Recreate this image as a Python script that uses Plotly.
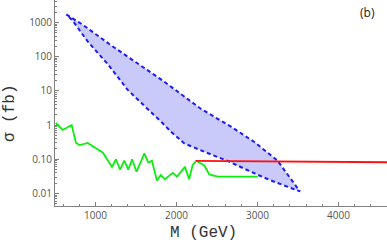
import numpy as np
import plotly.graph_objects as go

# Band (theory) boundaries
band_upper_m = [640, 842, 1170, 1500, 1830, 2300, 2673, 2961, 3245]
band_upper_sigma = [1720, 860, 234, 69, 20, 3.0, 0.90, 0.32, 0.093]
band_lower_m = [640, 718, 904, 1158, 1398, 1623, 1830, 1932, 2097, 2344, 2653, 2920, 3167, 3525]
band_lower_sigma = [1720, 1130, 279, 58, 10.7, 3.3, 1.13, 0.64, 0.29, 0.166, 0.085, 0.043, 0.024, 0.0115]

# Green limit curve
green_m = [510, 595, 706, 759, 805, 904, 1006, 1092, 1204, 1253, 1304, 1356, 1405, 1453,
           1506, 1603, 1652, 1697, 1759, 1807, 1856, 1955, 2006, 2105, 2156, 2200, 2243,
           2344, 2405, 2509, 2673, 3005]
green_sigma = [1.15, 0.72, 1.0, 0.30, 0.26, 0.30, 0.21, 0.155, 0.060, 0.10, 0.050, 0.092,
               0.050, 0.10, 0.043, 0.149, 0.080, 0.090, 0.024, 0.035, 0.026, 0.040, 0.031,
               0.060, 0.026, 0.068, 0.090, 0.066, 0.036, 0.031, 0.031, 0.031]

# Red line
red_m = [2240, 4600]
red_sigma = [0.090, 0.082]

y_tickvals = [0.01, 0.1, 1, 10, 100, 1000]
y_ticktext = ["0.01", "0.10", "1", "10", "100", "1000"]
x_tickvals = [1000, 2000, 3000, 4000]
x_ticktext = ["1000", "2000", "3000", "4000"]

poly_m = band_upper_m + band_lower_m[::-1]
poly_s = band_upper_sigma + band_lower_sigma[::-1]

fig = go.Figure()
fig.add_trace(go.Scatter(x=poly_m, y=poly_s, mode="lines", fill="toself",
                         fillcolor="rgb(202,202,250)",
                         line=dict(color="#1a1aff", width=2, dash="4px,3px"),
                         hoverinfo="skip"))
fig.add_trace(go.Scatter(x=green_m, y=green_sigma, mode="lines",
                         line=dict(color="#10ee10", width=1.8)))
fig.add_trace(go.Scatter(x=red_m, y=red_sigma, mode="lines",
                         line=dict(color="#ff1010", width=1.8)))

minor_y = [m * 10.0 ** e for e in range(-3, 4) for m in range(2, 10)]
minor_x = list(range(600, 4601, 200))

tickfont = dict(family="Open Sans, Arial, sans-serif", size=10, color="#555555")
fig.update_layout(
    width=387, height=246,
    margin=dict(l=55, r=0, t=0, b=40),
    plot_bgcolor="white", paper_bgcolor="white",
    showlegend=False,
    xaxis=dict(range=[500, 4600], showgrid=False, zeroline=False,
               showline=True, linecolor="#808080", linewidth=1,
               ticks="inside", ticklen=4, tickcolor="#808080",
               tickmode="array", tickvals=x_tickvals, ticktext=x_ticktext,
               tickfont=tickfont,
               minor=dict(ticks="inside", ticklen=2, tickcolor="#808080",
                          tickvals=minor_x, showgrid=False)),
    yaxis=dict(type="log", range=[-2.366, 3.657], showgrid=False, zeroline=False,
               showline=True, linecolor="#808080", linewidth=1,
               ticks="inside", ticklen=4, tickcolor="#808080",
               tickmode="array", tickvals=y_tickvals, ticktext=y_ticktext,
               tickfont=tickfont,
               minor=dict(ticks="inside", ticklen=2, tickcolor="#808080",
                          tickvals=minor_y, showgrid=False)),
    annotations=[
        dict(text="M (GeV)", xref="paper", yref="paper", x=0.446, y=-0.131,
             showarrow=False, xanchor="center", yanchor="middle",
             font=dict(family="Courier New, Liberation Mono, monospace", size=16, color="#333333")),
        dict(text="σ (fb)", xref="paper", yref="paper", x=-0.1355, y=0.451,
             showarrow=False, xanchor="center", yanchor="middle", textangle=-90,
             font=dict(family="Courier New, Liberation Mono, monospace", size=16, color="#333333")),
        dict(text="(b)", xref="paper", yref="paper", x=0.94, y=0.937,
             showarrow=False, xanchor="center", yanchor="middle",
             font=dict(family="Open Sans, Arial, sans-serif", size=12, color="#222222")),
    ],
)
fig.write_html("out.html", config={"displayModeBar": False},
               post_script="document.body.style.margin='0';document.body.style.overflow='hidden';")
